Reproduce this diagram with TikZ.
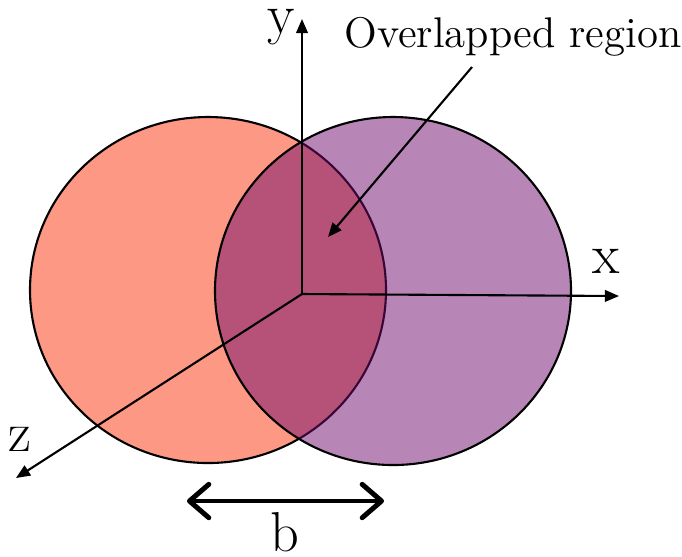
\documentclass[tikz,border=0pt]{standalone}
\usetikzlibrary{arrows.meta}

\definecolor{salmone}{RGB}{253,152,132}
\definecolor{prugna}{RGB}{113,13,109}

\begin{document}
\begin{tikzpicture}[x=0.01cm,y=-0.01cm,font=\fontsize{16}{18}\selectfont]

    % Stili globali
    \tikzset{asse/.style={line width=0.6pt,-{Triangle[length=4pt,width=3.3pt]}},
             bordo/.style={line width=0.6pt},
             nome/.style={inner sep=0pt},
             distanza/.style={line width=1.4pt,{Straight Barb[round,length=5.5pt,width=9.5pt]}-{Straight Barb[round,length=5.5pt,width=9.5pt]}}}

    % Area del disegno (682 x 556)
    \useasboundingbox (0,0) rectangle (682,556);

    % Cerchio sinistro
    \filldraw[bordo,fill=salmone] (208,290) ellipse [x radius=178, y radius=173];

    % Cerchio destro, semitrasparente
    \filldraw[bordo,fill=prugna,fill opacity=0.5] (393,291) ellipse [x radius=178, y radius=174];

    % Assi cartesiani
    \coordinate (O) at (302,294);
    \coordinate (tipY) at (302,19);
    \coordinate (tipX) at (619,296);
    \coordinate (tipZ) at (16,478);
    \draw[asse] (O) -- (tipY);
    \draw[asse] (O) -- (tipX);
    \draw[asse] (O) -- (tipZ);

    % Nomi degli assi
    \node[nome] (lblY) at (281,27) {y};
    \node[nome] (lblX) at (606,261) {x};
    \node[nome] (lblZ) at (20,439) {z};

    % Etichetta della regione comune
    \node[nome,font=\fontsize{12.2}{14}\selectfont] (lblOverlap) at (513,37) {Overlapped region};
    \coordinate (overStart) at (472,67);
    \coordinate (overTip) at (328,237);
    \draw[asse] (overStart) -- (overTip);

    % Distanza b tra i centri
    \coordinate (bLeft) at (187,501);
    \coordinate (bRight) at (384,501);
    \draw[distanza,black!25,opacity=0.6,shift={(1.5,3)}] (bLeft) -- (bRight);
    \draw[distanza] (bLeft) -- (bRight);
    \node[nome] (lblB) at (285,532) {b};

\end{tikzpicture}
\end{document}
